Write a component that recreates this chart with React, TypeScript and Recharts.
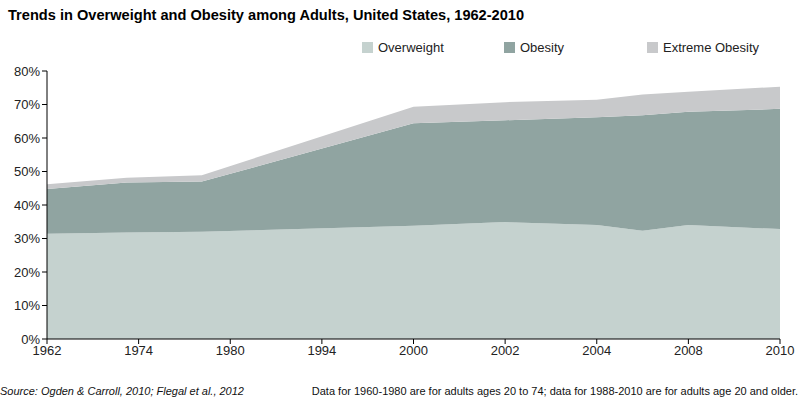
import React from 'react';
import { AreaChart, Area, XAxis, YAxis } from 'recharts';

const positions = [0, 0.87, 1.69, 4, 5, 6, 6.5, 7, 8];
const overweight = [31.4, 31.8, 32.0, 33.8, 34.9, 34.0, 32.3, 34.0, 32.8];
const obesity = [13.4, 14.9, 15.0, 30.6, 30.4, 32.2, 34.5, 33.8, 35.9];
const extremeObesity = [1.4, 1.4, 1.9, 4.9, 5.4, 5.2, 6.2, 6.0, 6.6];
const tickLabels = ['1962', '1974', '1980', '1994', '2000', '2002', '2004', '2008', '2010'];
const yTicks = [0, 10, 20, 30, 40, 50, 60, 70, 80];

const data = positions.map((x, i) => ({
  x,
  overweight: overweight[i],
  obesity: obesity[i],
  extreme: extremeObesity[i],
}));

const COLORS = { overweight: '#C5D2CF', obesity: '#90A4A1', extreme: '#C8C9CB' };
const FONT = '"Liberation Sans", Arial, sans-serif';

const legendItems = [
  { label: 'Overweight', color: COLORS.overweight, left: 362 },
  { label: 'Obesity', color: COLORS.obesity, left: 504 },
  { label: 'Extreme Obesity', color: COLORS.extreme, left: 647 },
];

export default function App() {
  return (
    <div style={{ position: 'fixed', left: 0, top: 0, width: 800, height: 400, background: '#fff', fontFamily: FONT }}>
      <div style={{ position: 'absolute', left: 8, top: 7, fontSize: 14.6, fontWeight: 'bold', color: '#000', whiteSpace: 'nowrap' }}>
        Trends in Overweight and Obesity among Adults, United States, 1962-2010
      </div>
      {legendItems.map((it) => (
        <div key={it.label} style={{ position: 'absolute', left: it.left, top: 40, display: 'flex', alignItems: 'center', fontSize: 13, color: '#222', whiteSpace: 'nowrap' }}>
          <span style={{ display: 'inline-block', width: 11, height: 11, background: it.color, marginRight: 5 }} />
          <span>{it.label}</span>
        </div>
      ))}
      <div style={{ position: 'absolute', top: 0, left: 0 }}>
        <AreaChart width={800} height={400} data={data} margin={{ top: 71, right: 20, bottom: 31, left: 0 }}>
          <XAxis
            dataKey="x"
            type="number"
            domain={[0, 8]}
            ticks={[0, 1, 2, 3, 4, 5, 6, 7, 8]}
            tickFormatter={(v: number) => tickLabels[v]}
            height={30}
            axisLine={{ stroke: '#000' }}
            tickLine={{ stroke: '#000' }}
            tickSize={5}
            tick={{ fill: '#222', fontSize: 13, fontFamily: FONT }}
            interval={0}
          />
          <YAxis
            type="number"
            domain={[0, 80]}
            ticks={yTicks}
            tickFormatter={(v: number) => `${v}%`}
            width={47}
            axisLine={{ stroke: '#000' }}
            tickLine={{ stroke: '#000' }}
            tickSize={5}
            tick={{ fill: '#222', fontSize: 13, fontFamily: FONT }}
            interval={0}
          />
          <Area type="linear" dataKey="overweight" stackId="a" stroke="none" fill={COLORS.overweight} fillOpacity={1} isAnimationActive={false} />
          <Area type="linear" dataKey="obesity" stackId="a" stroke="none" fill={COLORS.obesity} fillOpacity={1} isAnimationActive={false} />
          <Area type="linear" dataKey="extreme" stackId="a" stroke="none" fill={COLORS.extreme} fillOpacity={1} isAnimationActive={false} />
        </AreaChart>
      </div>
      <div style={{ position: 'absolute', left: 0, top: 385, fontSize: 11, fontStyle: 'italic', color: '#111', whiteSpace: 'nowrap' }}>
        Source: Ogden &amp; Carroll, 2010; Flegal et al., 2012
      </div>
      <div style={{ position: 'absolute', right: 2, top: 385, fontSize: 11, color: '#111', whiteSpace: 'nowrap' }}>
        Data for 1960-1980 are for adults ages 20 to 74; data for 1988-2010 are for adults age 20 and older.
      </div>
    </div>
  );
}
